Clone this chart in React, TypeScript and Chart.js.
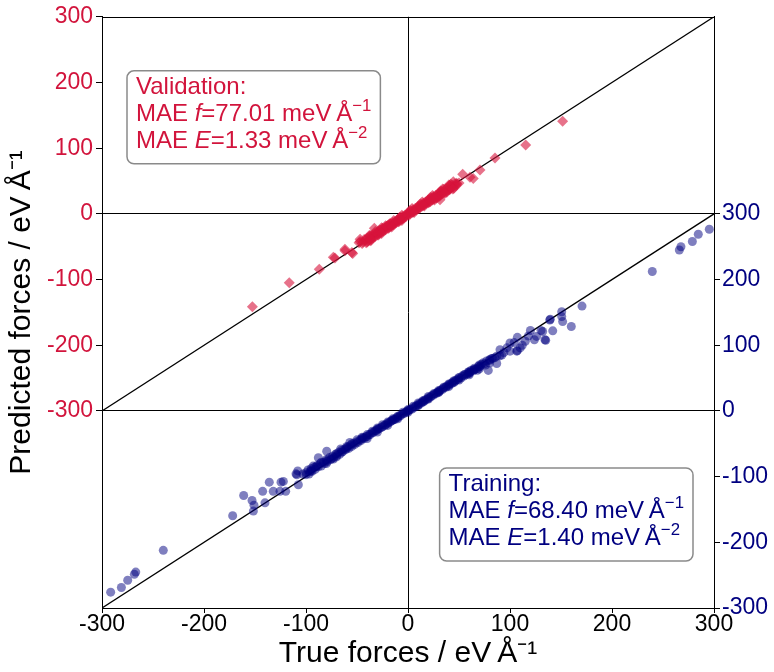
import { useEffect, useRef } from 'react';
import { Chart, registerables } from 'chart.js';

Chart.register(...registerables);

// ---------- data ----------
const X_TICKS = [-300, -200, -100, 0, 100, 200, 300];
const LEFT_TICKS = [-300, -200, -100, 0, 100, 200, 300];
const RIGHT_TICKS = [-300, -200, -100, 0, 100, 200, 300];
const PARITY_LINE: [number, number][] = [[-300, -300], [300, 300]];

// Validation set: [true force, predicted force]
const VALIDATION: [number, number][] = [
  [-152.6, -141.5], [-116.4, -104.9], [-87, -84.3], [-71.6, -67.3], [-73.2, -66.2],
  [-61.8, -56.3], [-61.8, -53.7], [-54.2, -60.2], [-55, -58.7], [-47, -42], [-47, -38.7],
  [-37, -41], [-33, -22], [151.6, 140.9], [115.4, 104.8], [85.3, 85.2], [70.6, 66.7],
  [60.8, 55.7], [53.6, 60.2], [64, 54], [44.4, 49], [47.7, 46.7], [45, 39], [31.4, 21.5],
  [-44, -43], [-42, -40], [-41, -44], [-40, -37], [-39, -41], [-38, -35], [-36, -38], [-35, -33],
  [-34, -36], [-33, -30], [-32, -34], [-31, -29], [-30, -32], [-29, -27], [-28, -30], [-27, -25],
  [-26, -28], [-25, -22], [-24, -26], [-23, -21], [-22, -24], [-21, -19], [-20, -22], [-19, -17],
  [-18, -20], [-17, -15], [-16, -18], [-15, -13], [-14, -16], [-13, -12], [-12, -14], [-11, -10],
  [-10, -12], [-9, -8], [-8, -10], [-7, -6], [-6, -8], [-5, -4], [-4, -6], [-3, -2], [-2, -4],
  [-1, 0], [0, -1], [1, 2], [2, 0], [3, 4], [4, 2], [5, 6], [6, 4], [7, 8], [8, 6], [9, 10],
  [10, 8], [11, 12], [12, 10], [13, 14], [14, 12], [15, 16], [16, 14], [17, 18], [18, 16],
  [19, 20], [20, 17], [21, 22], [22, 19], [23, 24], [24, 21], [25, 26], [26, 23], [27, 28],
  [28, 25], [29, 30], [30, 27], [31, 33], [32, 29], [33, 34], [34, 31], [35, 37], [36, 33],
  [37, 38], [38, 35], [39, 40], [40, 37], [41, 43], [42, 39], [43, 44], [44, 41], [46, 46],
  [48, 45], [-20, -18], [-10, -9], [0, 1], [10, 11], [20, 21], [30, 30], [-30, -29], [5, 3],
  [-5, -7], [15, 13], [25, 24], [35, 34], [-15, -16], [-25, -25], [-35, -35],
  [-43, -39], [-37, -33], [-28, -25], [-18, -15], [-8, -5], [2, 5], [12, 15], [22, 25],
  [32, 35], [42, 45], [-40, -43], [-29, -32], [-19, -22], [-9, -12], [1, -2], [11, 8],
  [21, 18], [31, 27], [41, 37], [47, 43], [38, 33], [28, 24],
  [-38, -33], [-32, -27], [-26, -21], [-22, -18], [-14, -10], [-6, -2], [4, 8], [14, 18],
  [24, 28], [34, 38], [40, 44], [-36, -40], [-26, -30], [-16, -20], [-6, -10], [6, 2],
  [16, 12], [26, 21], [36, 31], [44, 38], [50, 47], [-45, -45], [-48, -44],
];

// Training set: [true force, predicted force]
const TRAINING: [number, number][] = [
  [295.4, 276.6], [284.6, 269], [278.8, 258], [267.6, 250], [266, 245], [239.5, 212.3],
  [170.6, 159.6], [160.1, 128.5], [151.6, 136], [150.7, 143.6], [150.7, 151], [139.5, 139.5],
  [141.9, 121.9], [135, 107.5], [130.4, 122.5], [132, 121], [123.9, 108.4], [120, 122.5],
  [126, 113.5], [107.2, 112], [107.2, 91.8], [110, 95.9], [100, 103.4], [90.2, 93.3],
  [87, 83.4], [78.7, 61.7], [87, 72.2], [73.8, 73.3], [106.6, 91], [134.3, 108.4], [139, 138.5],
  [104, 104], [112, 100], [115, 106], [118, 114], [97, 96], [94, 89], [100, 91], [92, 85],
  [83, 80], [80, 77], [76, 70], [70, 67], [68, 62], [65, 63], [60, 57],
  [-291.5, -275.9], [-281, -268.8], [-274.8, -257.8], [-268.3, -248.8], [-266.9, -245.3],
  [-239.9, -212.2], [-171.9, -159.5], [-161.1, -128.8], [-152.9, -136.4], [-151.6, -152.5],
  [-151, -143.4], [-142.5, -122.4], [-140.2, -139.9], [-136, -108.4], [-132.1, -122.4],
  [-124.5, -108.4], [-119.9, -122.4], [-109.8, -95.8], [-108.1, -91.3], [-107.5, -112.3],
  [-96, -92.3], [-79.7, -61.3], [-87.9, -71.2], [-73.2, -73.2], [-109, -97.2],
  [-122.2, -107.3], [-125.5, -122.4],
  [-100, -94], [-98, -90], [-97, -96], [-95, -88], [-94, -92], [-92, -86], [-91, -89],
  [-89, -83], [-88, -85], [-86, -80], [-85, -84], [-83, -78], [-82, -80], [-80, -74],
  [-79, -77], [-77, -71], [-76, -74], [-74, -69], [-73, -71], [-71, -66], [-70, -68],
  [-68, -63], [-67, -66], [-65, -60], [-64, -62], [-62, -58], [-61, -59], [-59, -55],
  [-58, -57], [-56, -52], [-55, -54], [-53, -49], [-52, -51], [-50, -47], [-49, -48],
  [-47, -44], [-46, -45], [-44, -41], [-43, -42], [-41, -39], [-40, -39], [-38, -36],
  [-37, -36], [-35, -33], [-34, -33], [-32, -30], [-31, -30], [-29, -27], [-28, -27],
  [-26, -25], [-25, -24], [-23, -22], [-22, -21], [-20, -19], [-19, -18], [-17, -16],
  [-16, -15], [-14, -13], [-13, -13], [-11, -10], [-10, -10], [-8, -7], [-7, -7], [-5, -4],
  [-4, -4], [-2, -2], [-1, 0], [1, 1], [2, 2], [4, 3], [5, 5], [7, 6], [8, 8], [10, 9],
  [11, 11], [13, 12], [14, 14], [16, 15], [17, 17], [19, 18], [20, 20], [22, 21], [23, 23],
  [25, 24], [26, 26], [28, 27], [29, 29], [31, 30], [32, 32], [34, 33], [35, 35], [37, 36],
  [38, 38], [40, 39], [41, 41], [43, 42], [44, 44], [46, 45], [47, 47], [49, 48], [50, 50],
  [52, 50], [53, 53], [55, 53], [56, 56], [58, 56], [59, 59], [61, 59], [62, 62], [64, 61],
  [65, 65], [67, 64], [69, 68], [71, 68], [72, 71], [75, 72], [77, 76], [80, 78], [82, 80],
  [85, 81], [-60, -56], [-45, -42], [-30, -28], [-15, -14], [0, 0], [15, 14], [30, 29],
  [45, 43], [60, 58], [-80, -76], [-70, -65], [-90, -85], [-100, -97], [-95, -91],
  [-60, -54], [-55, -50], [-50, -44], [-45, -40], [-40, -36], [-35, -31], [-30, -26],
  [-25, -21], [-20, -17], [-15, -12], [-10, -8], [-5, -2], [0, 2], [5, 7], [10, 12],
  [15, 16], [20, 22], [25, 26], [30, 31], [35, 36], [40, 41], [45, 46], [50, 51], [55, 55],
  [60, 60], [65, 63], [70, 70], [-65, -63], [-70, -70], [-75, -73], [-80, -80],
  [-40, -42], [-30, -32], [-20, -22], [-10, -12], [0, -2], [10, 8], [20, 18], [30, 28],
  [40, 37], [50, 47], [60, 55], [70, 64], [80, 73], [90, 84], [-85, -78], [-93, -84],
  [-103, -96], [-66, -58], [-57, -48],
];

const VALIDATION_LABEL = 'Validation:';
const VALIDATION_MAE_F = '77.01';
const VALIDATION_MAE_E = '1.33';
const TRAINING_LABEL = 'Training:';
const TRAINING_MAE_F = '68.40';
const TRAINING_MAE_E = '1.40';

const X_TITLE = 'True forces / eV\u2009Å\u207B\u00B9';
const Y_TITLE = 'Predicted forces / eV\u2009Å\u207B\u00B9';

// ---------- styles ----------
const FONT = '"Liberation Sans", Arial, Helvetica, sans-serif';
const CRIMSON = 'rgb(210,20,60)';
const NAVY = 'rgb(0,0,128)';
const TICK_SIZE = 23;
const TITLE_SIZE = 30;
const TEXT_SIZE = 24;

type Seg = { t: string; italic?: boolean; sup?: boolean };

function maeLines(label: string, f: string, e: string): Seg[][] {
  return [
    [{ t: label }],
    [{ t: 'MAE ' }, { t: 'f', italic: true }, { t: `=${f} meV\u2009Å` }, { t: '\u22121', sup: true }],
    [{ t: 'MAE ' }, { t: 'E', italic: true }, { t: `=${e} meV\u2009Å` }, { t: '\u22122', sup: true }],
  ];
}

function segFont(s: Seg) {
  const size = s.sup ? TEXT_SIZE * 0.7 : TEXT_SIZE;
  return `${s.italic ? 'italic ' : ''}${size}px ${FONT}`;
}

function lineWidth(ctx: CanvasRenderingContext2D, line: Seg[]) {
  let w = 0;
  for (const s of line) {
    ctx.font = segFont(s);
    w += ctx.measureText(s.t).width;
  }
  return w;
}

function drawBox(
  ctx: CanvasRenderingContext2D,
  lines: Seg[][],
  color: string,
  anchorX: number,
  anchorY: number,
  alignRight: boolean,
  alignBottom: boolean,
) {
  const padX = 9;
  const lh = 27;
  const boxH = 93;
  const maxW = Math.max(...lines.map((l) => lineWidth(ctx, l)));
  const boxW = maxW + padX * 2;
  const left = alignRight ? anchorX - boxW : anchorX;
  const top = alignBottom ? anchorY - boxH : anchorY;
  ctx.save();
  ctx.beginPath();
  ctx.roundRect(left, top, boxW, boxH, 7);
  ctx.fillStyle = 'rgba(255,255,255,0.85)';
  ctx.fill();
  ctx.lineWidth = 1.5;
  ctx.strokeStyle = '#8a8a8a';
  ctx.stroke();
  ctx.fillStyle = color;
  ctx.textBaseline = 'alphabetic';
  ctx.textAlign = 'left';
  lines.forEach((line, i) => {
    let x = left + padX;
    const baseY = top + 23 + i * lh;
    for (const s of line) {
      ctx.font = segFont(s);
      const y = s.sup ? baseY - TEXT_SIZE * 0.42 : baseY;
      ctx.fillText(s.t, x, y);
      x += ctx.measureText(s.t).width;
    }
  });
  ctx.restore();
}

const overlayPlugin = {
  id: 'overlay',
  afterDraw(chart: any) {
    const { ctx, chartArea } = chart;
    const { left, right, top, bottom } = chartArea;
    ctx.save();
    ctx.strokeStyle = '#000';
    ctx.lineWidth = 1;
    ctx.strokeRect(Math.round(left) + 0.5, Math.round(top) + 0.5, Math.round(right - left), Math.round(bottom - top));
    ctx.restore();
    drawBox(ctx, maeLines(VALIDATION_LABEL, VALIDATION_MAE_F, VALIDATION_MAE_E), CRIMSON, left + 25, top + 54, false, false);
    drawBox(ctx, maeLines(TRAINING_LABEL, TRAINING_MAE_F, TRAINING_MAE_E), NAVY, right - 21, bottom - 47, true, true);
  },
};

const tickList = (vals: number[]) => (axis: any) => {
  axis.ticks = vals.map((v) => ({ value: v }));
};

export default function App() {
  const ref = useRef<HTMLCanvasElement | null>(null);
  useEffect(() => {
    document.body.style.margin = '0';
    const canvas = ref.current;
    if (!canvas) return;
    const chart = new Chart(canvas, {
      type: 'scatter',
      data: {
        datasets: [
          {
            type: 'line',
            label: 'Validation parity',
            data: PARITY_LINE.map(([x, y]) => ({ x, y })),
            yAxisID: 'y',
            borderColor: '#000',
            borderWidth: 1.3,
            pointRadius: 0,
            fill: false,
            order: 10,
          },
          {
            type: 'line',
            label: 'Training parity',
            data: PARITY_LINE.map(([x, y]) => ({ x, y })),
            yAxisID: 'y2',
            borderColor: '#000',
            borderWidth: 1.3,
            pointRadius: 0,
            fill: false,
            order: 10,
          },
          {
            label: 'Validation',
            data: VALIDATION.map(([x, y]) => ({ x, y })),
            yAxisID: 'y',
            pointStyle: 'rectRot',
            pointRadius: 5.5,
            backgroundColor: 'rgba(215,20,60,0.6)',
            borderWidth: 0,
            order: 1,
          },
          {
            label: 'Training',
            data: TRAINING.map(([x, y]) => ({ x, y })),
            yAxisID: 'y2',
            pointStyle: 'circle',
            pointRadius: 4.5,
            backgroundColor: 'rgba(0,0,128,0.5)',
            borderWidth: 0,
            order: 2,
          },
        ],
      },
      options: {
        responsive: false,
        animation: false,
        layout: { padding: { top: 10, left: 0, right: 0, bottom: 0 } },
        plugins: { legend: { display: false }, tooltip: { enabled: false } },
        scales: {
          x: {
            type: 'linear',
            position: 'bottom',
            min: -300,
            max: 300,
            afterBuildTicks: tickList(X_TICKS),
            afterFit: (s: any) => { s.height = 64; },
            grid: {
              color: (c: any) => (c.tick && c.tick.value === 0 ? '#000' : 'rgba(0,0,0,0)'),
              tickColor: '#000',
              tickLength: 5,
              lineWidth: 1,
            },
            border: { color: '#000', width: 1 },
            ticks: {
              color: '#000',
              font: { family: FONT, size: TICK_SIZE },
              padding: -2,
              maxRotation: 0,
              autoSkip: false,
              callback: (v: any) => String(v),
            },
            title: {
              display: true,
              text: X_TITLE,
              color: '#000',
              font: { family: FONT, size: TITLE_SIZE },
              padding: { top: 0, bottom: 0 },
            },
          },
          y: {
            type: 'linear',
            position: 'left',
            min: -600,
            max: 300,
            afterBuildTicks: tickList(LEFT_TICKS),
            afterFit: (s: any) => { s.width = 102; },
            grid: {
              color: (c: any) => (c.tick && (c.tick.value === 0 || c.tick.value === -300) ? '#000' : 'rgba(0,0,0,0)'),
              tickColor: '#000',
              tickLength: 6,
              lineWidth: 1,
            },
            border: { color: '#000', width: 1 },
            ticks: {
              color: CRIMSON,
              font: { family: FONT, size: TICK_SIZE },
              padding: 3,
              autoSkip: false,
              callback: (v: any) => String(v),
            },
            title: {
              display: true,
              text: Y_TITLE,
              color: '#000',
              font: { family: FONT, size: TITLE_SIZE },
              padding: { top: 4, bottom: 0 },
            },
          },
          y2: {
            type: 'linear',
            position: 'right',
            min: -300,
            max: 600,
            afterBuildTicks: tickList(RIGHT_TICKS),
            afterFit: (s: any) => { s.width = 60; },
            grid: {
              drawOnChartArea: false,
              tickColor: '#000',
              tickLength: 6,
            },
            border: { color: '#000', width: 1 },
            ticks: {
              color: NAVY,
              font: { family: FONT, size: TICK_SIZE },
              padding: 2,
              autoSkip: false,
              callback: (v: any) => String(v),
            },
          },
        },
      },
      plugins: [overlayPlugin],
    } as any);
    return () => chart.destroy();
  }, []);
  return (
    <div style={{ width: 774, height: 672, background: '#fff' }}>
      <canvas ref={ref} width={774} height={672} style={{ display: 'block' }} />
    </div>
  );
}
